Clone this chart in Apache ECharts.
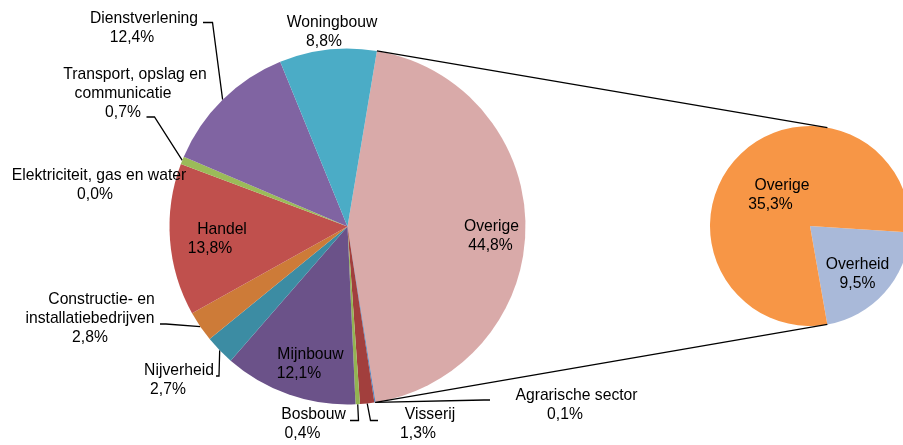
<!DOCTYPE html>
<html>
<head>
<meta charset="utf-8">
<script src="https://cdn.jsdelivr.net/npm/echarts@6/dist/echarts.min.js"></script>
<style>
  html, body { margin: 0; padding: 0; background: #fff; }
  #chart { width: 903px; height: 445px; }
</style>
</head>
<body>
<div id="chart"></div>
<script>
// data
const sectors = ['Overige', 'Agrarische sector', 'Visserij', 'Bosbouw', 'Mijnbouw', 'Nijverheid',
  'Constructie- en\ninstallatiebedrijven', 'Handel', 'Elektriciteit, gas en water',
  'Transport, opslag en\ncommunicatie', 'Dienstverlening', 'Woningbouw']
const shares = [44.8, 0.1, 1.3, 0.4, 12.1, 2.7, 2.8, 13.8, 0.0, 0.7, 12.4, 8.8]
const splitNames = ['Overheid', 'Overige']
const splitShares = [9.5, 35.3]

// styling
const colors = ['#d9aaa9', '#4f81bd', '#a23f3d', '#93b452', '#6b5289', '#3c8ca3',
  '#cd7b38', '#c0504d', '#4f81bd', '#9bbb59', '#8064a2', '#4bacc6']
const splitColors = ['#a9b9d9', '#f79646']

const main = { cx: 347.5, cy: 226.5, r: 178, start: 80.5 }
const side = { cx: 810, cy: 226, r: 100, start: -3.7 }
const font = { fontFamily: 'Liberation Sans, Arial, sans-serif', fontSize: 15.7, lineHeight: 19, color: '#000' }
const lineW = 1.3

// label block centre [x, y] and how far the first line sits right of the others
const mainLabels = [
  [490.5, 236, 1], [565, 405, 11.5], [418, 424.5, 12], [302.5, 424, 11], [299, 364.5, 11.5],
  [168, 380, 11], [90, 318.5, 11.5], [210, 239.5, 12], [95, 185, 4], [123, 93.5, 12],
  [132, 28.5, 12], [324, 32, 8]
]
const sideLabels = [[857.5, 274, 0], [770.5, 194.7, 11.5]]

// leader lines: elbow and end point, the start comes from the slice
const leaders = {
  'Agrarische sector': [[484, 400], [490, 400]],
  'Visserij': [[370.5, 420.5], [378, 420.5]],
  'Bosbouw': [[358.5, 420.5], [350, 420.5]],
  'Nijverheid': [[219, 376], [216, 376]],
  'Constructie- en\ninstallatiebedrijven': [[166, 324], [160, 324]],
  'Transport, opslag en\ncommunicatie': [[154.5, 117], [146.5, 117]],
  'Dienstverlening': [[212.5, 22.5], [203, 22.5]]
}

const shifts = [0, 1, 4, 8, 11, 11.5, 12]
const rich = { t: Object.assign({}, font) }
shifts.forEach((s, k) => {
  rich['h' + k] = Object.assign({ padding: [0, 0, 0, s * 2] }, font)
})

const pct = v => v.toFixed(1).replace('.', ',') + '%'

function makeFormatter(places) {
  return p => {
    const lines = p.name.split('\n')
    const k = shifts.indexOf(places[p.dataIndex][2])
    const out = ['{h' + k + '|' + lines[0] + '}']
    lines.slice(1).forEach(l => out.push('{t|' + l + '}'))
    out.push('{t|' + pct(p.value) + '}')
    return out.join('\n')
  }
}

function makeLayout(places, names) {
  return p => {
    const pl = places[p.dataIndex]
    const res = { x: pl[0], y: pl[1], align: 'center', verticalAlign: 'middle' }
    const lead = leaders[names[p.dataIndex]]
    if (lead && p.labelLinePoints) {
      res.labelLinePoints = [p.labelLinePoints[0], lead[0], lead[1]]
    }
    return res
  }
}

const total = shares.reduce((a, b) => a + b, 0)
const splitSpan = shares[0] / total * 360

function polar(c, deg) {
  const a = deg * Math.PI / 180
  return [c.cx + c.r * Math.cos(a), c.cy - c.r * Math.sin(a)]
}
const a1 = polar(main, main.start)
const a2 = polar(main, main.start - splitSpan)
const b1 = polar(side, 80)
const b2 = polar(side, -80)

const chart = echarts.init(document.getElementById('chart'))

const option = {
  animation: false,
  graphic: [
    { type: 'line', z: 10, shape: { x1: a1[0], y1: a1[1], x2: b1[0], y2: b1[1] }, style: { stroke: '#000', lineWidth: lineW } },
    { type: 'line', z: 10, shape: { x1: a2[0], y1: a2[1], x2: b2[0], y2: b2[1] }, style: { stroke: '#000', lineWidth: lineW } }
  ],
  series: [
    {
      type: 'pie',
      center: [main.cx, main.cy],
      radius: main.r,
      startAngle: main.start,
      clockwise: true,
      avoidLabelOverlap: false,
      emphasis: { disabled: true },
      data: sectors.map((n, i) => ({
        name: n,
        value: shares[i],
        itemStyle: { color: colors[i] },
        labelLine: { show: !!leaders[n] }
      })),
      label: { show: true, position: 'outside', formatter: makeFormatter(mainLabels), rich: rich },
      labelLine: { show: true, length: 10, length2: 10, lineStyle: { color: '#000', width: lineW } },
      labelLayout: makeLayout(mainLabels, sectors)
    },
    {
      type: 'pie',
      center: [side.cx, side.cy],
      radius: side.r,
      startAngle: side.start,
      clockwise: true,
      avoidLabelOverlap: false,
      emphasis: { disabled: true },
      data: splitNames.map((n, i) => ({
        name: n,
        value: splitShares[i],
        itemStyle: { color: splitColors[i] }
      })),
      label: { show: true, position: 'inside', formatter: makeFormatter(sideLabels), rich: rich },
      labelLine: { show: false },
      labelLayout: makeLayout(sideLabels, splitNames)
    }
  ]
}

chart.setOption(option)
window.addEventListener('resize', () => chart.resize())
</script>
</body>
</html>
